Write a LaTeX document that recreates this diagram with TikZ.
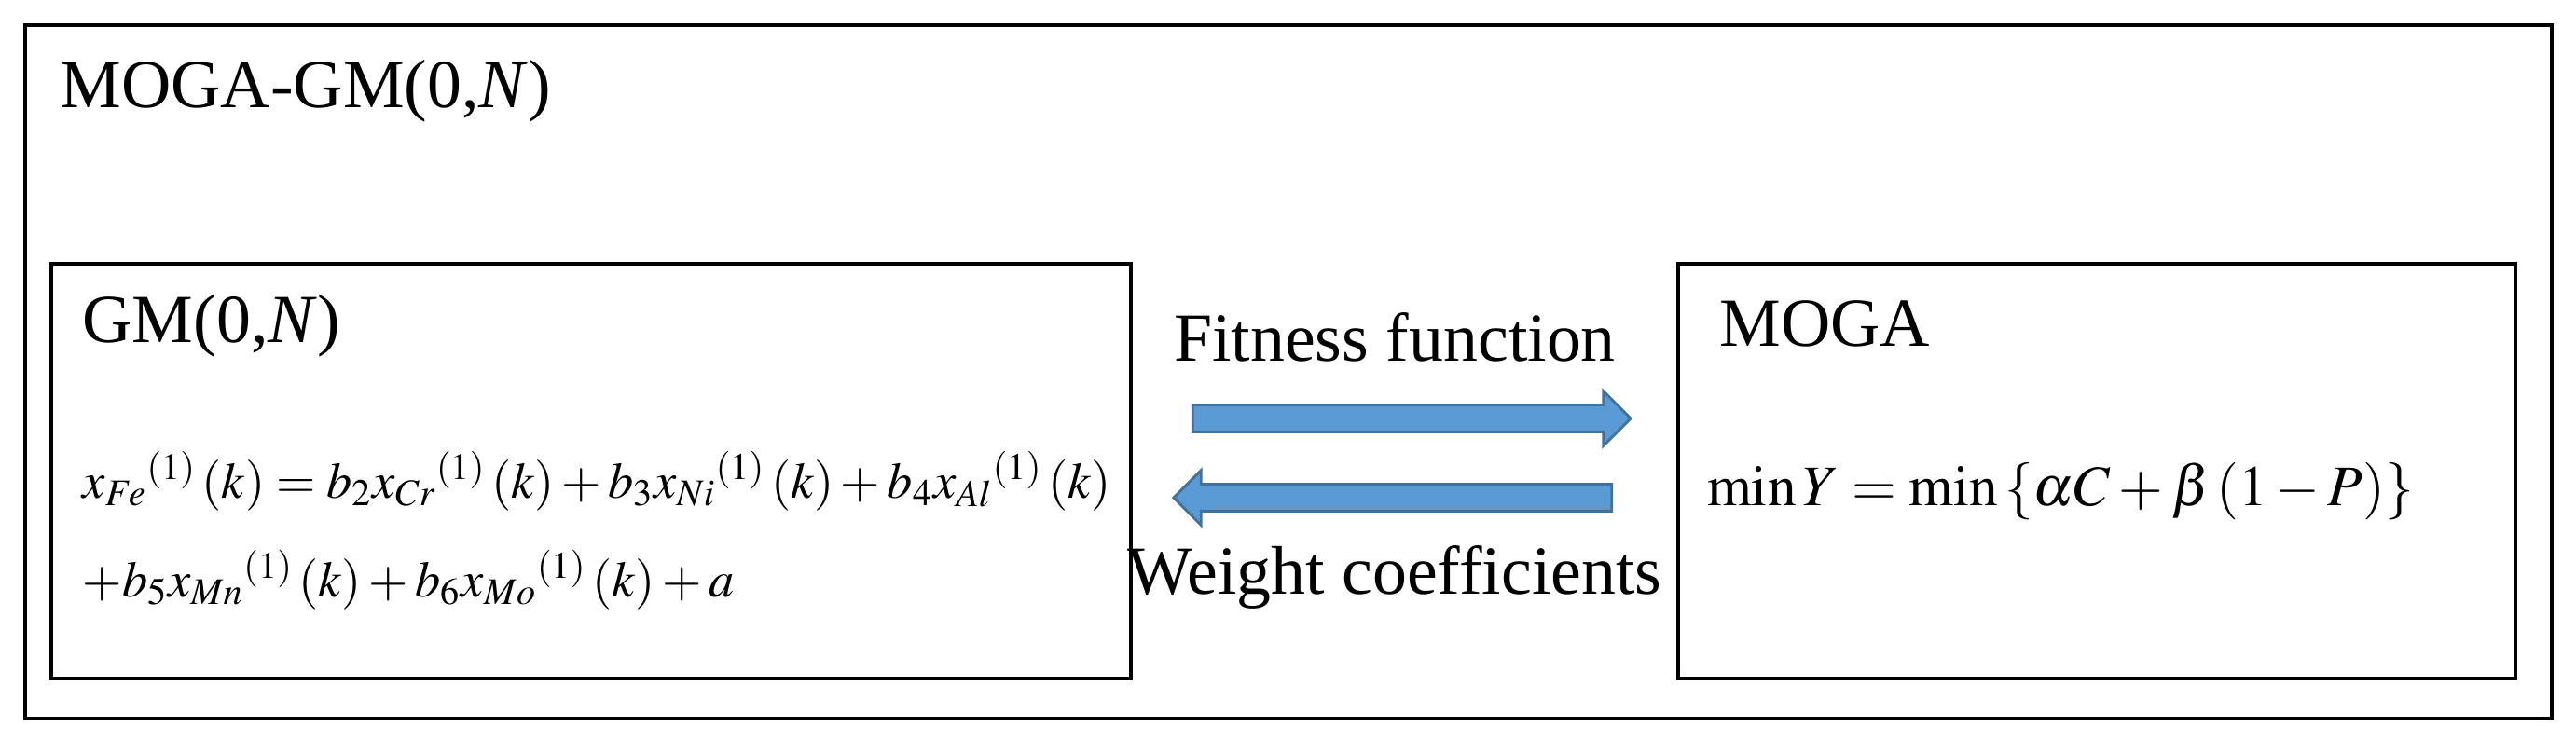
\documentclass[tikz,border=0pt]{standalone}
\usepackage{mathptmx}
\usepackage{fontspec}
\setmainfont{Liberation Serif}
\usetikzlibrary{positioning,shapes.arrows}
\definecolor{arrowfill}{HTML}{5B9BD5}
\definecolor{arrowline}{HTML}{41719C}
\tikzset{
  box/.style={draw, line width=1.2pt},
  title/.style={anchor=north west, inner sep=0pt, font=\fontsize{21}{24}\selectfont},
  label/.style={inner sep=0pt, font=\fontsize{21}{24}\selectfont},
  blockarrow/.style={single arrow, fill=arrowfill, draw=arrowline, line width=0.8pt,
    inner xsep=0pt, inner ysep=0.13cm, minimum width=0pt, single arrow head extend=0.15cm,
    single arrow head indent=0pt, minimum height=4.7cm},
}
\begin{document}
\begin{tikzpicture}
  \useasboundingbox (0,0) rectangle (27.63,7.94);
  % frames
  \draw[box] (0.27,0.23) rectangle (27.37,7.67);
  \draw[box] (0.55,0.66) rectangle (12.13,5.11);
  \draw[box] (18.0,0.66) rectangle (26.98,5.11);
  % titles
  \node[title] (outer) at (0.64,7.30) {MOGA-GM(0,\textit{N})};
  \node[title] (gm) at (0.88,4.78) {GM(0,\textit{N})};
  \node[title] (moga) at (18.44,4.72) {MOGA};
  % model equations
  \node[anchor=west, inner sep=0pt, font=\fontsize{15.5}{18}\selectfont] (eqa) at (0.88,2.78)
    {$x_{Fe}{}^{(1)}\left(k\right)=b_2x_{Cr}{}^{(1)}\left(k\right)+b_3x_{Ni}{}^{(1)}\left(k\right)+b_4x_{Al}{}^{(1)}\left(k\right)$};
  \node[anchor=west, inner sep=0pt, font=\fontsize{15.5}{18}\selectfont] (eqb) at (0.88,1.72)
    {$+b_5x_{Mn}{}^{(1)}\left(k\right)+b_6x_{Mo}{}^{(1)}\left(k\right)+a$};
  \node[inner sep=0pt, font=\fontsize{17.5}{20}\selectfont] (obj) at (22.1,2.67)
    {$\min Y=\min\left\{\alpha C+\beta\left(1-P\right)\right\}$};
  % exchange arrows
  \node[blockarrow] (fwd) at (15.07,3.45) {};
  \node[blockarrow, shape border rotate=180] (back) at (15.01,2.60) {};
  \node[label] (fit) at (14.96,4.32) {Fitness function};
  \node[label] (wgt) at (14.96,1.75) {Weight coefficients};
\end{tikzpicture}
\end{document}
